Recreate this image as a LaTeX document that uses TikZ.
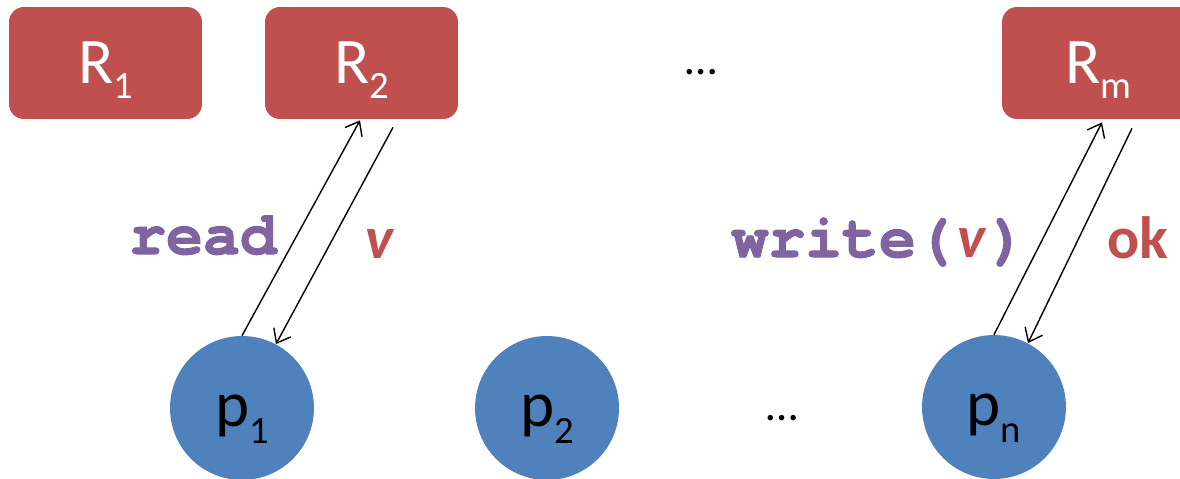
\documentclass[tikz,border=0pt]{standalone}
\usepackage{fontspec}
\setmainfont{Carlito}
\newfontfamily\codefont{TeX Gyre Cursor}[BoldFeatures={FakeBold=1.6}]
\usetikzlibrary{arrows.meta,calc}
\definecolor{rbox}{HTML}{C0504D}
\definecolor{pblue}{HTML}{4F81BD}
\definecolor{cpurple}{HTML}{8064A2}
\definecolor{cred}{HTML}{C0504D}
\newcommand{\lsub}[1]{\raisebox{-8.5pt}{\fontsize{22}{22}\selectfont #1}}
\newcommand{\psub}[1]{\raisebox{-9.5pt}{\fontsize{22}{22}\selectfont #1}}
\newcommand{\vval}{{\normalfont\bfseries\itshape\color{cred}v}}
\begin{document}
\begin{tikzpicture}[x=0.02cm,y=-0.02cm,
  replica/.style={fill=rbox, rounded corners=0.3cm, minimum width=3.86cm,
    minimum height=2.24cm, text=white, font=\fontsize{37}{40}\selectfont,
    inner sep=0pt, text depth=0pt},
  proc/.style={circle, fill=pblue, minimum size=2.88cm, inner sep=0pt,
    text=black, font=\fontsize{37}{40}\selectfont, text depth=0pt},
  msg/.style={draw=black, line width=0.8pt,
    -{Straight Barb[length=7pt,width=11pt,line width=0.8pt]}},
  op/.style={font=\codefont\bfseries\fontsize{35}{36}\selectfont,
    text=cpurple, anchor=base, inner sep=0pt},
  reply/.style={font=\bfseries\fontsize{34}{36}\selectfont,
    text=cred, anchor=base, inner sep=0pt},
  dots/.style={font=\fontsize{26}{28}\selectfont, inner sep=0pt}
]
\useasboundingbox (0,0) rectangle (1180,478);
\begin{scope}
\clip (0,0) rectangle (1180,478);
% replicas
\node[replica] (R1) at (105.5,63) {R\lsub{1}};
\node[replica] (R2) at (361.5,63) {R\lsub{2}};
\node[replica] (Rm) at (1098.5,63) {R\lsub{m}};
\node[dots] (dtop) at (701,72) {…};
% processes
\node[proc] (p1) at (242,408) {\raisebox{-3pt}{p\psub{1}}};
\node[proc] (p2) at (547,408) {\raisebox{-3pt}{p\psub{2}}};
\node[proc] (pn) at (994,407) {\raisebox{-3pt}{p\psub{n}}};
\node[dots] (dbot) at (782,418) {…};
\end{scope}
% messages p1 <-> R2
\draw[msg] (p1.north) -- ($(R2.south)+(-1.5,1)$);
\draw[msg] ($(R2.south)+(31.5,8)$) -- (p1.62);
% messages pn <-> Rm
\draw[msg] (pn.north) -- ($(Rm.south)+(3.5,3)$);
\draw[msg] ($(Rm.south)+(33.5,9)$) -- (pn.62);
% labels
\node[op] (lread) at (203,254) {read};
\node[reply,font=\bfseries\itshape\fontsize{34}{36}\selectfont] (lv) at (380,258) {v};
\node[op] (lwrite) at (879,257) {write(\makebox[21pt]{\fontsize{34}{36}\selectfont\vval})};
\node[reply] (lok) at (1138,258) {ok};
\end{tikzpicture}
\end{document}
